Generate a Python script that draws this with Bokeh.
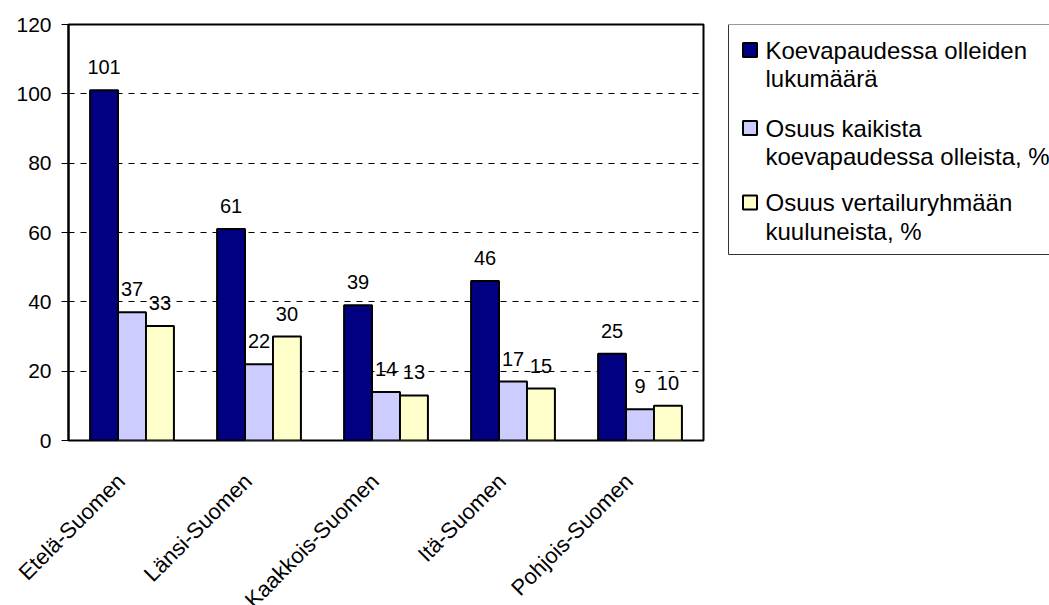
from bokeh.plotting import figure
from bokeh.models import ColumnDataSource, FactorRange, Range1d, LabelSet
from bokeh.transform import dodge
from bokeh.layouts import row, column
from bokeh.embed import file_html
from bokeh.resources import INLINE
from bokeh.core.properties import value
import math

regions = ["Etelä-Suomen", "Länsi-Suomen", "Kaakkois-Suomen", "Itä-Suomen", "Pohjois-Suomen"]
lukumaara = [101, 61, 39, 46, 25]
osuus_kaikista = [37, 22, 14, 17, 9]
osuus_vertailu = [33, 30, 13, 15, 10]
series_names = ["Koevapaudessa olleiden\nlukumäärä",
                "Osuus kaikista\nkoevapaudessa olleista, %",
                "Osuus vertailuryhmään\nkuuluneista, %"]
colors = ["#000080", "#CCCCFF", "#FFFFCC"]
y_ticks = [0, 20, 40, 60, 80, 100, 120]

FONT = "Liberation Sans"
PW = 720            # main figure width
BL, BR, BT, BB = 68, 17, 24, 12
PH = 440 + BB       # main figure height (frame bottom at 440)
LH = 605 - PH       # category-label strip height
LW = 329            # legend panel width

p = figure(x_range=FactorRange(*regions), y_range=Range1d(0, 120),
           width=PW, height=PH, output_backend="svg", toolbar_location=None,
           min_border_left=BL, min_border_right=BR, min_border_top=BT, min_border_bottom=BB)

p.outline_line_color = "black"
p.outline_line_width = 2
p.xgrid.grid_line_color = None
p.ygrid.grid_line_color = "black"
p.ygrid.grid_line_dash = "6 6"
p.ygrid.grid_line_width = 1

p.xaxis.visible = False
p.yaxis.ticker = y_ticks
p.yaxis.axis_line_color = "black"
p.yaxis.axis_line_width = 2
p.yaxis.major_tick_out = 7
p.yaxis.major_tick_in = 0
p.yaxis.major_tick_line_color = "black"
p.yaxis.major_tick_line_width = 1
p.yaxis.minor_tick_line_color = None
p.yaxis.major_label_standoff = 10
p.yaxis.major_label_text_font = FONT
p.yaxis.major_label_text_font_size = "21px"
p.yaxis.major_label_text_color = "black"

src = ColumnDataSource(dict(region=regions, a=lukumaara, b=osuus_kaikista, c=osuus_vertailu,
                            la=[str(v) for v in lukumaara], lb=[str(v) for v in osuus_kaikista],
                            lc=[str(v) for v in osuus_vertailu]))

W = 0.22
for col, lab, off, colr in [("a", "la", -W, colors[0]), ("b", "lb", 0.0, colors[1]), ("c", "lc", W, colors[2])]:
    p.vbar(x=dodge("region", off, range=p.x_range), top=col, width=W, bottom=0,
           fill_color=colr, line_color="black", line_width=2, source=src)
    labels = LabelSet(x=dodge("region", off, range=p.x_range), y=col, text=lab, source=src,
                      text_align="center", text_baseline="alphabetic", y_offset=16,
                      text_font=value(FONT), text_font_size="20px", text_color="black")
    p.add_layout(labels)

# category-label strip below the plot, aligned with the main frame (category units)
n = len(regions)
cat_px = (PW - BL - BR) / n
lbl = figure(width=PW, height=LH, x_range=Range1d(-BL / cat_px, n + BR / cat_px),
             y_range=Range1d(-LH, 0), output_backend="svg", toolbar_location=None,
             min_border_left=0, min_border_right=0, min_border_top=0, min_border_bottom=0)
lbl.axis.visible = False
lbl.grid.grid_line_color = None
lbl.outline_line_color = None
anchor_below = 37 - BB   # label anchor sits 37px below the frame bottom
lbl_src = ColumnDataSource(dict(x=[i + 0.5 for i in range(n)], y=[-anchor_below] * n, text=regions))
lbl.text(x="x", y="y", text="text", source=lbl_src, angle=math.pi / 4, x_offset=-11,
         text_align="right", text_baseline="middle",
         text_font=value(FONT), text_font_size="22px", text_color="black")

# legend panel, drawn in page-pixel coordinates
lg = figure(width=LW, height=PH, x_range=Range1d(PW, PW + LW), y_range=Range1d(440, BT),
            output_backend="svg", toolbar_location=None,
            min_border_left=0, min_border_right=0, min_border_top=BT, min_border_bottom=BB)
lg.axis.visible = False
lg.grid.grid_line_color = None
lg.outline_line_color = None
lg.quad(left=[728], right=[1060], top=[BT], bottom=[254], fill_color="white",
        line_color="#333333", line_width=1)

entry_y = [49.5, 127.5, 202]
line_gap = 28.5
for name, colr, ey in zip(series_names, colors, entry_y):
    lg.rect(x=[749.5], y=[ey], width=14, height=14, fill_color=colr, line_color="black", line_width=2)
    lines = name.split("\n")
    lg.text(x=[765] * len(lines), y=[ey + i * line_gap for i in range(len(lines))], text=lines,
            text_font=value(FONT), text_font_size="24px", text_baseline="middle",
            text_align="left", text_color="black")

layout = column(row(p, lg), lbl)
open("out.html", "w").write(file_html(layout, INLINE))
